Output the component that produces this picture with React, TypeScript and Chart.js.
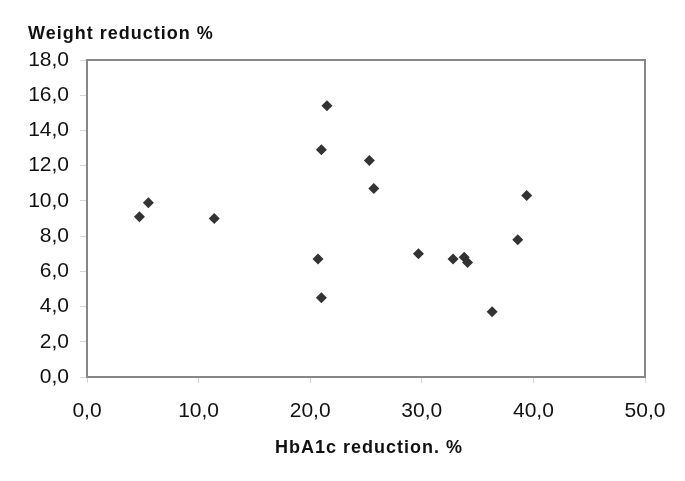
import React, { useEffect, useRef } from "react";
import { Chart, registerables } from "chart.js";

Chart.register(...registerables);

const hba1cReduction = [4.7, 5.5, 11.4, 21.5, 21.0, 20.7, 21.0, 25.3, 25.7, 29.7, 32.8, 33.8, 34.1, 36.3, 38.6, 39.4];
const weightReduction = [9.1, 9.9, 9.0, 15.4, 12.9, 6.7, 4.5, 12.3, 10.7, 7.0, 6.7, 6.8, 6.5, 3.7, 7.8, 10.3];
const yTitle = "Weight reduction %";
const xTitle = "HbA1c reduction. %";

const fmt = (v: number | string) => Number(v).toFixed(1).replace(".", ",");

export default function App() {
  const ref = useRef<HTMLCanvasElement | null>(null);
  useEffect(() => {
    if (!ref.current) return;
    const frame = {
      id: "frameAndTitles",
      afterDatasetsDraw(chart: any) {
        const { ctx, chartArea: a } = chart;
        ctx.save();
        ctx.strokeStyle = "#878787";
        ctx.lineWidth = 2;
        ctx.strokeRect(a.left, a.top, a.right - a.left, a.bottom - a.top);
        ctx.restore();
      },
      afterDraw(chart: any) {
        const { ctx, chartArea: a } = chart;
        ctx.save();
        ctx.fillStyle = "#111";
        ctx.font = "bold 18px 'Liberation Sans', Arial, sans-serif";
        try { (ctx as any).letterSpacing = "1px"; } catch (e) {}
        ctx.textBaseline = "alphabetic";
        ctx.textAlign = "left";
        ctx.fillText(yTitle, 28, 39);
        ctx.textAlign = "center";
        ctx.fillText(xTitle, (a.left + a.right) / 2 + 3, 453);
        ctx.restore();
      },
    };
    const chart = new Chart(ref.current, {
      type: "scatter",
      data: {
        datasets: [
          {
            data: hba1cReduction.map((x, i) => ({ x, y: weightReduction[i] })),
            pointStyle: "rectRot",
            pointRadius: 5.5,
            pointBackgroundColor: "#333333",
            pointBorderColor: "#333333",
            pointBorderWidth: 0,
          },
        ],
      },
      options: {
        responsive: false,
        animation: false,
        layout: { padding: { left: 0, top: 60, right: 40, bottom: 0 } },
        plugins: { legend: { display: false }, tooltip: { enabled: false } },
        scales: {
          x: {
            type: "linear",
            min: 0,
            max: 50,
            afterFit: (s: any) => { s.height = 104; },
            border: { display: false },
            grid: { drawOnChartArea: false, drawTicks: true, tickLength: 6, color: "#d6d6d6" },
            ticks: {
              stepSize: 10,
              padding: 16,
              color: "#111",
              font: { family: "'Liberation Sans', Arial, sans-serif", size: 21 },
              callback: (v: any) => fmt(v),
            },
          },
          y: {
            type: "linear",
            min: 0,
            max: 18,
            afterFit: (s: any) => { s.width = 87; },
            border: { display: false },
            grid: { drawOnChartArea: false, drawTicks: true, tickLength: 7, color: "#d6d6d6" },
            ticks: {
              stepSize: 2,
              padding: 11,
              color: "#111",
              font: { family: "'Liberation Sans', Arial, sans-serif", size: 21 },
              callback: (v: any) => fmt(v),
            },
          },
        },
      },
      plugins: [frame],
    });
    return () => chart.destroy();
  }, []);
  return (
    <div style={{ position: "fixed", left: 0, top: 0, width: 685, height: 481, background: "#fff" }}>
      <canvas ref={ref} width={685} height={481} style={{ display: "block" }} />
    </div>
  );
}
